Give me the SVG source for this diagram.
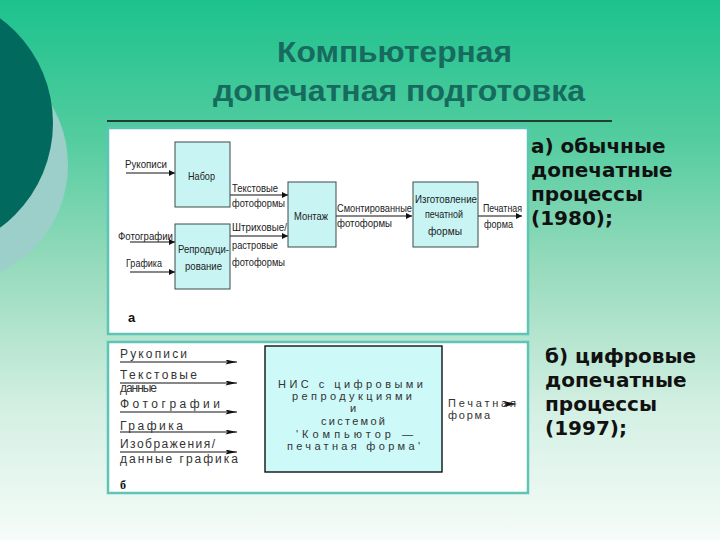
<svg xmlns="http://www.w3.org/2000/svg" width="720" height="540" viewBox="0 0 720 540">
<defs>
<linearGradient id="bg" x1="0" y1="0" x2="0" y2="1">
<stop offset="0" stop-color="#1cc28d"/>
<stop offset="0.25" stop-color="#52cc9f"/>
<stop offset="0.5" stop-color="#98dbbd"/>
<stop offset="0.75" stop-color="#d2efe2"/>
<stop offset="1" stop-color="#f6fcf9"/>
</linearGradient>
<marker id="ah" viewBox="0 0 10 10" refX="10" refY="5" markerWidth="8" markerHeight="6" markerUnits="userSpaceOnUse" orient="auto">
<path d="M0,0 L10,5 L0,10 z" fill="#111"/>
</marker>
<marker id="ahb" viewBox="0 0 14 6" refX="14" refY="3" markerWidth="14" markerHeight="5" markerUnits="userSpaceOnUse" orient="auto">
<path d="M0,0 L14,3 L0,6 L3,3 z" fill="#111"/>
</marker>
<style>
.ta{font-family:"Liberation Sans Narrow","Liberation Sans",Arial,sans-serif;font-size:11.5px;fill:#222}
.tb{font-family:"Liberation Sans",Arial,sans-serif;font-size:12px;fill:#333}
.tc{font-family:"Liberation Sans",Arial,sans-serif;font-size:11px;fill:#333}
.box{fill:#c8f4f4;stroke:#3a4a4a;stroke-width:1}
.boxb{fill:#cdf9f9;stroke:#111;stroke-width:1.4}
.ln{stroke:#111;stroke-width:1.2;fill:none}
.side{font-family:"DejaVu Sans",Verdana,sans-serif;font-weight:bold;font-size:20px;fill:#111}
.title{font-family:"Liberation Sans",Arial,sans-serif;font-weight:bold;font-size:30px;fill:#176b5e}
.panel{fill:#fff;stroke:#5ec4b6;stroke-width:2.5}
</style>
</defs>
<rect x="0" y="0" width="720" height="540" fill="url(#bg)"/>
<circle cx="-50" cy="165" r="118" fill="#9ccfc9"/>
<circle cx="-77" cy="123" r="130" fill="#02695f"/>

<g id="title">
<text class="title" x="277" y="62" textLength="235" lengthAdjust="spacingAndGlyphs">Компьютерная</text>
<text class="title" x="213" y="101" textLength="372" lengthAdjust="spacingAndGlyphs">допечатная подготовка</text>
</g>
<line x1="107" y1="121" x2="612" y2="121" stroke="#111" stroke-width="1.3"/>

<rect class="panel" x="108" y="128" width="420" height="206"/>
<rect class="panel" x="108" y="342" width="420" height="151"/>

<g id="side-labels">
<text class="side" x="531" y="153">а) обычные</text>
<text class="side" x="531" y="177">допечатные</text>
<text class="side" x="531" y="201">процессы</text>
<text class="side" x="531" y="225">(1980);</text>
<text class="side" x="545" y="363">б) цифровые</text>
<text class="side" x="545" y="387">допечатные</text>
<text class="side" x="545" y="411">процессы</text>
<text class="side" x="545" y="435">(1997);</text>
</g>

<g id="connectors">
<line class="ln" x1="126" y1="173" x2="175" y2="173" marker-end="url(#ah)"/>
<line class="ln" x1="130" y1="242" x2="175" y2="242" marker-end="url(#ah)"/>
<line class="ln" x1="130" y1="272" x2="175" y2="272" marker-end="url(#ah)"/>
<line class="ln" x1="230" y1="195" x2="288" y2="195" marker-end="url(#ah)"/>
<line class="ln" x1="230" y1="236" x2="288" y2="236" marker-end="url(#ah)"/>
<line class="ln" x1="336" y1="216" x2="412" y2="216" marker-end="url(#ah)"/>
<line class="ln" x1="478" y1="216" x2="522" y2="216" marker-end="url(#ah)"/>
<line class="ln" x1="120" y1="362" x2="237" y2="362" marker-end="url(#ahb)"/>
<line class="ln" x1="120" y1="383" x2="237" y2="383" marker-end="url(#ahb)"/>
<line class="ln" x1="120" y1="412" x2="237" y2="412" marker-end="url(#ahb)"/>
<line class="ln" x1="120" y1="432" x2="237" y2="432" marker-end="url(#ahb)"/>
<line class="ln" x1="120" y1="452" x2="237" y2="452" marker-end="url(#ahb)"/>
<path d="M503,401 L517,404 L503,407 L506,404 z" fill="#111"/>
</g>

<g id="labels-a">
<text class="ta" x="125" y="168" textLength="42" lengthAdjust="spacingAndGlyphs">Рукописи</text>
<text class="ta" x="118" y="240" textLength="55" lengthAdjust="spacingAndGlyphs">Фотографии</text>
<text class="ta" x="126" y="267" textLength="36" lengthAdjust="spacingAndGlyphs">Графика</text>
<text class="ta" x="232" y="192" textLength="46" lengthAdjust="spacingAndGlyphs">Текстовые</text>
<text class="ta" x="232" y="207" textLength="53" lengthAdjust="spacingAndGlyphs">фотоформы</text>
<text class="ta" x="232" y="231" textLength="55" lengthAdjust="spacingAndGlyphs">Штриховые/</text>
<text class="ta" x="232" y="249" textLength="46" lengthAdjust="spacingAndGlyphs">растровые</text>
<text class="ta" x="232" y="266" textLength="53" lengthAdjust="spacingAndGlyphs">фотоформы</text>
<text class="ta" x="337" y="212" textLength="75" lengthAdjust="spacingAndGlyphs">Смонтированные</text>
<text class="ta" x="337" y="227" textLength="55" lengthAdjust="spacingAndGlyphs">фотоформы</text>
<text class="ta" x="483" y="212" textLength="39" lengthAdjust="spacingAndGlyphs">Печатная</text>
<text class="ta" x="484" y="228" textLength="29" lengthAdjust="spacingAndGlyphs">форма</text>
<text x="128" y="322" font-family="Liberation Sans,Arial,sans-serif" font-weight="bold" font-size="13" fill="#111">а</text>
</g>

<g id="node-nabor">
<rect class="box" x="175" y="142" width="55" height="65"/>
<text class="ta" x="188" y="180" textLength="27" lengthAdjust="spacingAndGlyphs">Набор</text>
</g>
<g id="node-repro">
<rect class="box" x="175" y="224" width="55" height="65"/>
<text class="ta" x="178" y="253" textLength="51" lengthAdjust="spacingAndGlyphs">Репродуци-</text>
<text class="ta" x="185" y="270" textLength="37" lengthAdjust="spacingAndGlyphs">рование</text>
</g>
<g id="node-montazh">
<rect class="box" x="288" y="182" width="48" height="65"/>
<text class="ta" x="294" y="220" textLength="34" lengthAdjust="spacingAndGlyphs">Монтаж</text>
</g>
<g id="node-izgot">
<rect class="box" x="413" y="182" width="65" height="65"/>
<text class="ta" x="415" y="203" textLength="62" lengthAdjust="spacingAndGlyphs">Изготовление</text>
<text class="ta" x="425" y="218" textLength="38" lengthAdjust="spacingAndGlyphs">печатной</text>
<text class="ta" x="428" y="235" textLength="34" lengthAdjust="spacingAndGlyphs">формы</text>
</g>

<g id="labels-b">
<text class="tb" x="120" y="358" textLength="67">Рукописи</text>
<text class="tb" x="120" y="379" textLength="77">Текстовые</text>
<text class="tb" x="120" y="392" textLength="37">данные</text>
<text class="tb" x="120" y="408" textLength="100">Фотографии</text>
<text class="tb" x="120" y="430" textLength="63">Графика</text>
<text class="tb" x="120" y="448" textLength="95">Изображения/</text>
<text class="tb" x="120" y="463" textLength="118">данные графика</text>
<text class="tc" x="448" y="407" textLength="68">Печатная</text>
<text class="tc" x="448" y="419" textLength="42">форма</text>
<text x="120" y="489" font-family="Liberation Serif,serif" font-weight="bold" font-size="12" fill="#111">б</text>
</g>

<g id="node-nis">
<rect class="boxb" x="265" y="346" width="177" height="126"/>
<text class="tc" x="278" y="388" textLength="145">НИС с цифровыми</text>
<text class="tc" x="292" y="400" textLength="120">репродукциями</text>
<text class="tc" x="353" y="412" text-anchor="middle">и</text>
<text class="tc" x="321" y="425" textLength="64">системой</text>
<text class="tc" x="296" y="438" textLength="117">'Компьютор —</text>
<text class="tc" x="287" y="450" textLength="133">печатная форма'</text>
</g>
</svg>
